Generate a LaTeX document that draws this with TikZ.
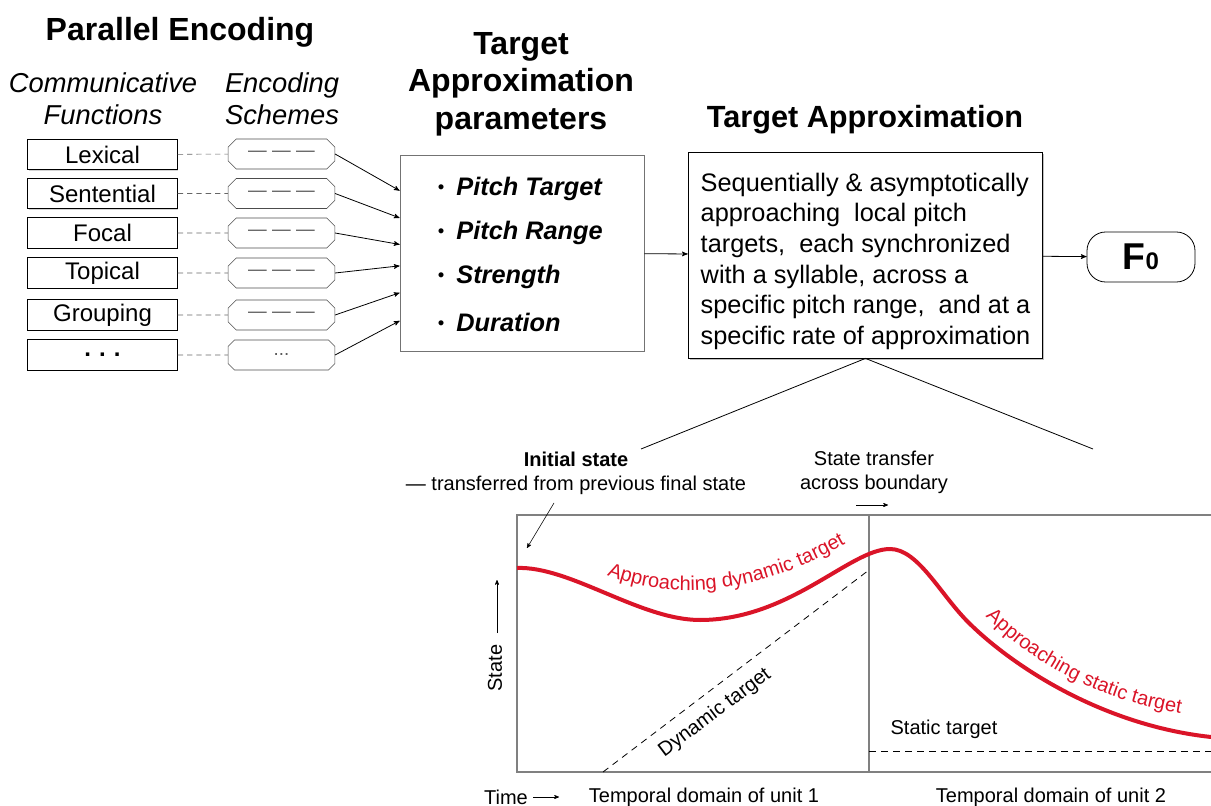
\documentclass[tikz,border=0pt]{standalone}
\usepackage{fontspec}
\setmainfont{Liberation Sans}
\usepackage{tikz}
\usetikzlibrary{arrows, shapes, shadows, decorations.text}

\definecolor{tared}{RGB}{218,20,40}
\newcommand{\pdot}{\textmd{\textup{\raisebox{1.5pt}{\fontsize{14}{14}\selectfont\textbullet}}}\hspace{9pt}}

\begin{document}
\begin{tikzpicture}[x=0.75pt, y=-0.75pt, >=stealth', semithick,
		heading/.style={font=\fontsize{24}{28}\selectfont\bfseries, align=center},
		subheading/.style={font=\fontsize{20.5}{24}\selectfont\itshape, align=center},
		func/.style={draw, thick, fill=white, minimum width=112pt, minimum height=23pt, inner sep=0pt,
			font=\fontsize{18}{20}\selectfont, drop shadow={shadow xshift=0.8pt, shadow yshift=-0.8pt, opacity=0.35}},
		scheme/.style={chamfered rectangle, chamfered rectangle sep=4pt, draw=black!70, thin, minimum width=80pt,
			minimum height=22.5pt, inner sep=0pt, font=\fontsize{14}{18}\selectfont, text=black!65},
		paramitem/.style={anchor=west, font=\fontsize{19}{22}\selectfont\bfseries\itshape},
		plotlabel/.style={font=\fontsize{15}{18}\selectfont, align=center},
		thinarrow/.style={->, thin, >=stealth'}
	]
		\useasboundingbox (0, 0) rectangle (1211, 806);

		% headings
		\node[heading] (h1) at (180, 32) {Parallel Encoding};
		\node[subheading] (h2) at (103, 99) {Communicative\\Functions};
		\node[subheading] (h3) at (282, 99) {Encoding\\Schemes};
		\node[heading] (h4) at (521, 84) {Target\\Approximation\\parameters};
		\node[heading, font=\fontsize{23}{28}\selectfont\bfseries] (h5) at (865, 120) {Target Approximation};

		% communicative functions
		\node[func] (f1) at (102.5, 154.5) {Lexical};
		\node[func] (f2) at (102.5, 193.5) {Sentential};
		\node[func] (f3) at (102.5, 233) {Focal};
		\node[func] (f4) at (102.5, 273) {Topical};
		\node[func] (f5) at (102.5, 315) {Grouping};
		\node[func] (f6) at (102.5, 355) {\textbf{.\,\,.\,\,.}};

		% encoding schemes
		\node[scheme] (s1) at (281.5, 154) {—\hspace{4pt}—\hspace{4pt}—};
		\node[scheme] (s2) at (281.5, 193.5) {—\hspace{4pt}—\hspace{4pt}—};
		\node[scheme] (s3) at (281.5, 233) {—\hspace{4pt}—\hspace{4pt}—};
		\node[scheme] (s4) at (281.5, 273) {—\hspace{4pt}—\hspace{4pt}—};
		\node[scheme] (s5) at (281.5, 315) {—\hspace{4pt}—\hspace{4pt}—};
		\node[scheme] (s6) at (281.5, 355) {...};

		% parameters
		\node[draw=black!55, minimum width=183pt, minimum height=147pt] (p) at (522, 253) {};
		\node[paramitem] (p1) at (433, 189) {\pdot Pitch Target};
		\node[paramitem] (p2) at (433, 233) {\pdot Pitch Range};
		\node[paramitem] (p3) at (433, 277) {\pdot Strength};
		\node[paramitem] (p4) at (433, 322) {\pdot Duration};

		% target approximation
		\node[draw, fill=white, minimum width=266pt, minimum height=154.5pt, align=left,
			font=\fontsize{19}{23}\selectfont, drop shadow={shadow xshift=1.2pt, shadow yshift=-1.5pt, opacity=0.5}]
			(ta) at (865.5, 255) {\rule{0pt}{23pt}Sequentially \& asymptotically\\approaching\ \ local pitch\\targets,\ \ each synchronized\\with a syllable, across a\\specific pitch range,\ \ and at a\\specific rate of approximation};
		\node[draw, rounded corners=14pt, minimum width=81pt, minimum height=37.5pt, font=\fontsize{28}{30}\selectfont\bfseries]
			(f0) at (1141, 257) {F{\fontsize{18}{20}\selectfont 0}};

		\path[draw=black!60, dash pattern=on 4pt off 3pt, thin] (f1) edge (s1)
			(f2) edge (s2)
			(f3) edge (s3)
			(f4) edge (s4)
			(f5) edge (s5)
			(f6) edge (s6);

		\path[->] (s1.east) edge (p.153)
			(s2.east) edge (p.164)
			(s3.east) edge (p.176)
			(s4.east) edge (p.186)
			(s5.east) edge (p.198)
			(s6.east) edge (p.209)
			(p) edge (ta)
			(ta) edge (f0);

		% zoom into the target approximation
		\coordinate (zl) at (641, 449);
		\coordinate (zr) at (1093, 449);
		\draw (zl) -- (ta.south) -- (zr);

		% plot
		\draw[black!50, thick] (1211, 515) -- (517, 515) -- (517, 772) -- (1211, 772);
		\draw[black!50, thick] (869, 515) -- (869, 772);
		\draw[dash pattern=on 5pt off 4pt] (603, 772) -- (869, 570);
		\draw[dash pattern=on 5pt off 4pt] (869, 751) -- (1211, 751);
		\draw[tared, line width=3pt] (517, 568) .. controls (570, 566) and (640, 620) .. (700, 620)
			.. controls (790, 620) and (850, 549) .. (890, 549)
			.. controls (918, 549) and (940, 594) .. (968, 622)
			.. controls (1010, 664) and (1100, 725) .. (1211, 737);

		\path[decorate, decoration={text along path, text align=center, text color=tared,
			text={|\fontsize{15}{18}\selectfont|Approaching dynamic target}}]
			(600, 572) .. controls (650, 595) and (740, 607) .. (852, 540);
		\path[decorate, decoration={text along path, text align=center, text color=tared,
			text={|\fontsize{15}{18}\selectfont|Approaching static target}}]
			(975, 606) .. controls (1030, 663) and (1095, 701) .. (1195, 716);

		\node[plotlabel, rotate=37] (dt) at (715, 713) {Dynamic target};
		\node[plotlabel] (st) at (944, 729) {Static target};
		\node[plotlabel] (init) at (576, 473) {\textbf{Initial state}\\— transferred from previous final state};
		\node[plotlabel] (trans) at (874, 472) {State transfer\\across boundary};
		\node[plotlabel, rotate=90] (state) at (495, 668) {State};
		\node[plotlabel] (time) at (506, 797) {Time};
		\node[plotlabel] (u1) at (704, 797) {Temporal domain of unit 1};
		\node[plotlabel] (u2) at (1051, 797) {Temporal domain of unit 2};

		\coordinate (i1) at (554, 503);
		\coordinate (i2) at (527, 548);
		\coordinate (t1) at (856, 505);
		\coordinate (t2) at (888, 505);
		\coordinate (a1) at (497, 633);
		\coordinate (a2) at (497, 580);
		\coordinate (m1) at (533, 797);
		\coordinate (m2) at (559, 797);
		\path[thinarrow] (i1) edge (i2)
			(t1) edge (t2)
			(a1) edge (a2)
			(m1) edge (m2);
	\end{tikzpicture}
\end{document}
